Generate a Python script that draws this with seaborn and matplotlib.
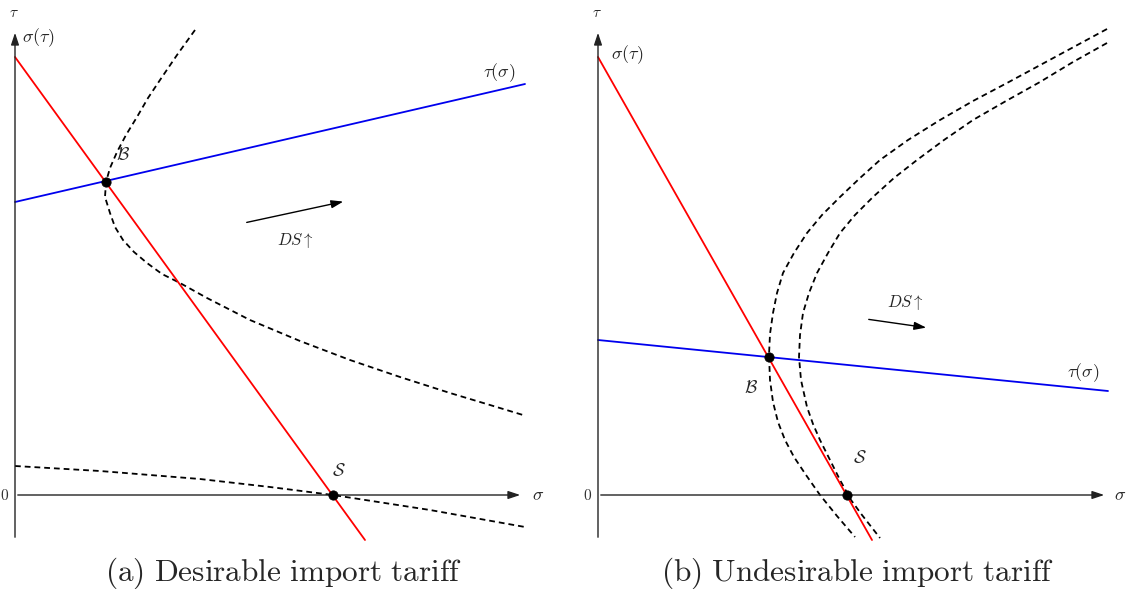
import matplotlib
matplotlib.use('Agg')
import matplotlib.pyplot as plt
import seaborn as sns
import pandas as pd

# ---- panel (a): desirable import tariff ----
a_red_sigma = [0.0, 3.50]
a_red_tau = [4.38, -0.45]
a_blue_sigma = [0.0, 5.10]
a_blue_tau = [2.93, 4.11]
a_upper_sigma = [1.80, 1.62, 1.45, 1.33, 1.22, 1.11, 1.02, 0.95, 0.91, 0.90, 0.95, 1.00,
                 1.08, 1.19, 1.32, 1.47, 1.65, 1.92, 2.35, 2.85, 3.35, 3.85, 4.35, 4.75, 5.08]
a_upper_tau = [4.65, 4.40, 4.15, 3.97, 3.78, 3.60, 3.43, 3.27, 3.13, 2.98, 2.82, 2.68,
               2.55, 2.43, 2.32, 2.21, 2.12, 1.97, 1.75, 1.54, 1.35, 1.18, 1.02, 0.90, 0.80]
a_lower_sigma = [0.0, 0.85, 1.85, 2.55, 3.18, 4.15, 5.10]
a_lower_tau = [0.29, 0.24, 0.16, 0.08, 0.0, -0.15, -0.32]
a_pts_sigma = [0.91, 3.18]
a_pts_tau = [3.13, 0.0]

# ---- panel (b): undesirable import tariff ----
b_red_sigma = [0.0, 2.74]
b_red_tau = [4.38, -0.45]
b_blue_sigma = [0.0, 5.10]
b_blue_tau = [1.55, 1.04]
b_left_sigma = [5.09, 4.59, 4.09, 3.75, 3.42, 3.10, 2.82, 2.62, 2.42, 2.24, 2.09, 1.96, 1.85,
                1.79, 1.75, 1.72, 1.71, 1.72, 1.75, 1.80, 1.87, 1.96, 2.08, 2.22, 2.39, 2.57]
b_left_tau = [4.66, 4.39, 4.12, 3.94, 3.75, 3.55, 3.35, 3.17, 2.98, 2.80, 2.62, 2.42, 2.22,
              2.02, 1.82, 1.61, 1.40, 1.15, 0.93, 0.73, 0.55, 0.38, 0.20, 0.0, -0.21, -0.42]
b_right_sigma = [5.09, 4.75, 4.42, 4.08, 3.75, 3.46, 3.19, 2.96, 2.75, 2.57, 2.42, 2.30, 2.19,
                 2.11, 2.05, 2.02, 2.01, 2.03, 2.09, 2.15, 2.22, 2.32, 2.42, 2.53, 2.64, 2.82]
b_right_tau = [4.52, 4.33, 4.13, 3.94, 3.75, 3.55, 3.35, 3.17, 2.98, 2.80, 2.62, 2.42, 2.22,
               2.02, 1.82, 1.60, 1.38, 1.15, 0.88, 0.71, 0.55, 0.35, 0.15, -0.05, -0.20, -0.43]
b_pts_sigma = [1.71, 2.49]
b_pts_tau = [1.38, 0.0]

sns.set_theme(style='white')
plt.rcParams['mathtext.fontset'] = 'cm'
plt.rcParams['font.family'] = ['DejaVu Serif']

fig = plt.figure(figsize=(11.26, 5.89), dpi=100)
ax_a = fig.add_axes([0, 0, 560 / 1126, 1])
ax_b = fig.add_axes([560 / 1126, 0, 566 / 1126, 1])
ax_a.set_xlim(-0.15, 5.45)
ax_b.set_xlim(-0.38, 5.28)

RED = '#ff0000'
BLUE = '#0000ee'
dash = (3.2, 2.2)
ARROW = '-|>,head_length=0.6,head_width=0.2'


def curve(ax, xs, ys, color, dashed=False):
    df = pd.DataFrame({'s': xs, 't': ys})
    sns.lineplot(data=df, x='s', y='t', sort=False, estimator=None, ax=ax,
                 color=color, lw=1.3, dashes=False)
    if dashed:
        ax.lines[-1].set_dashes(dash)


def axes_frame(ax, xend, label_x):
    arr = dict(arrowstyle=ARROW, color='#222222', lw=1.0)
    ax.annotate('', xy=(0, 4.65), xytext=(0, -0.45), arrowprops=arr)
    ax.annotate('', xy=(xend, 0), xytext=(0, 0), arrowprops=arr)
    ax.text(label_x, 0, r'$\sigma$', fontsize=13, ha='center', va='center')
    ax.text(-0.01, 4.82, r'$\tau$', fontsize=11, ha='center', va='center')
    ax.text(-0.10, 0, r'$0$', fontsize=11, ha='center', va='center', color='#333333')


for ax in (ax_a, ax_b):
    ax.set_ylim(-0.94, 4.95)

# panel (a)
axes_frame(ax_a, 5.08, 5.23)
curve(ax_a, a_upper_sigma, a_upper_tau, 'black', dashed=True)
curve(ax_a, a_lower_sigma, a_lower_tau, 'black', dashed=True)
curve(ax_a, a_red_sigma, a_red_tau, RED)
curve(ax_a, a_blue_sigma, a_blue_tau, BLUE)
sns.scatterplot(x=a_pts_sigma, y=a_pts_tau, ax=ax_a, color='black', s=45, zorder=5, edgecolor='black')
ax_a.annotate('', xy=(3.31, 2.94), xytext=(2.29, 2.72),
              arrowprops=dict(arrowstyle=ARROW, color='black', lw=1.0))
ax_a.text(2.80, 2.55, r'$DS\uparrow$', fontsize=12, ha='center', va='center')
ax_a.text(4.84, 4.22, r'$\tau(\sigma)$', fontsize=13, ha='center', va='center')
ax_a.text(0.07, 4.57, r'$\sigma(\tau)$', fontsize=13, ha='left', va='center')
ax_a.text(1.08, 3.40, r'$\mathcal{B}$', fontsize=13, ha='center', va='center')
ax_a.text(3.24, 0.24, r'$\mathcal{S}$', fontsize=13, ha='center', va='center')
ax_a.text(2.69, -0.78, r'$\mathrm{(a)\ Desirable\ import\ tariff}$', fontsize=22.5,
          ha='center', va='center')

# panel (b)
axes_frame(ax_b, 5.09, 5.22)
curve(ax_b, b_left_sigma, b_left_tau, 'black', dashed=True)
curve(ax_b, b_right_sigma, b_right_tau, 'black', dashed=True)
curve(ax_b, b_red_sigma, b_red_tau, RED)
curve(ax_b, b_blue_sigma, b_blue_tau, BLUE)
sns.scatterplot(x=b_pts_sigma, y=b_pts_tau, ax=ax_b, color='black', s=45, zorder=5, edgecolor='black')
ax_b.annotate('', xy=(3.31, 1.67), xytext=(2.68, 1.76),
              arrowprops=dict(arrowstyle=ARROW, color='black', lw=1.0))
ax_b.text(3.07, 1.93, r'$DS\uparrow$', fontsize=12, ha='center', va='center')
ax_b.text(4.85, 1.22, r'$\tau(\sigma)$', fontsize=13, ha='center', va='center')
ax_b.text(0.13, 4.40, r'$\sigma(\tau)$', fontsize=13, ha='left', va='center')
ax_b.text(1.53, 1.07, r'$\mathcal{B}$', fontsize=13, ha='center', va='center')
ax_b.text(2.62, 0.37, r'$\mathcal{S}$', fontsize=13, ha='center', va='center')
ax_b.text(2.60, -0.78, r'$\mathrm{(b)\ Undesirable\ import\ tariff}$', fontsize=22.5,
          ha='center', va='center')

for ax in (ax_a, ax_b):
    ax.set_xlabel('')
    ax.set_ylabel('')
    ax.axis('off')
    if ax.get_legend() is not None:
        ax.get_legend().remove()

fig.savefig('out.png', dpi=100)
